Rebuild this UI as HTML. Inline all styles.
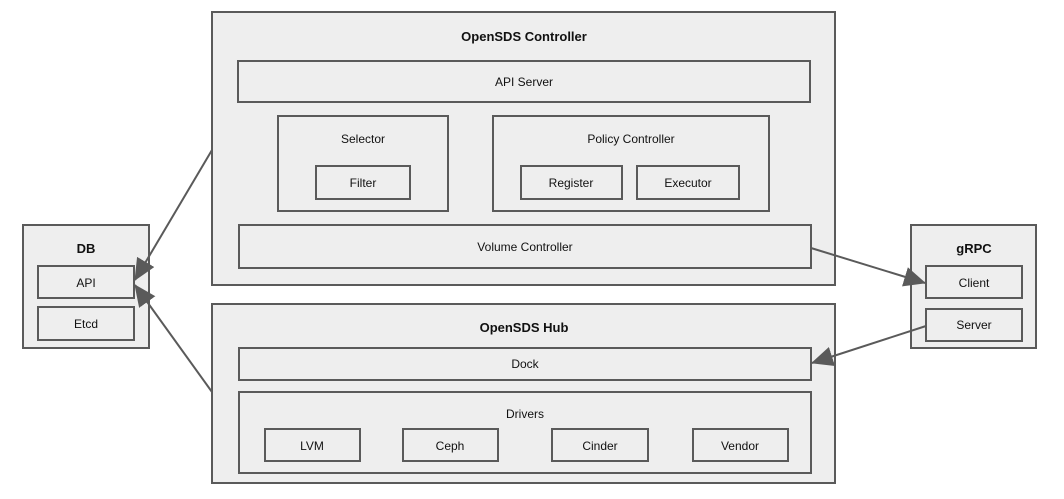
<!DOCTYPE html>
<html><head><meta charset="utf-8"><style>
html,body{margin:0;padding:0;background:#fff;}
svg{display:block;}
text{font-family:"Liberation Sans",Arial,sans-serif;fill:#111;}
.b{font-weight:bold;font-size:13px;}
.n{font-size:12px;}
rect{fill:#eeeeee;stroke:#5a5a5a;stroke-width:2;}
</style></head><body>
<svg width="1064" height="499" viewBox="0 0 1064 499" xmlns="http://www.w3.org/2000/svg">
<defs>
<marker id="a" viewBox="0 0 22 20" refX="21" refY="10" markerWidth="22" markerHeight="20" orient="auto" markerUnits="userSpaceOnUse"><path d="M0,0 L22,10 L0,20 z" fill="#5a5a5a"/></marker></defs>
<rect x="212" y="12" width="623" height="273"/>
<text class="b" x="524" y="41" text-anchor="middle">OpenSDS Controller</text>
<rect x="238" y="61" width="572" height="41"/>
<text class="n" x="524" y="86" text-anchor="middle">API Server</text>
<rect x="278" y="116" width="170" height="95"/>
<text class="n" x="363" y="143" text-anchor="middle">Selector</text>
<rect x="316" y="166" width="94" height="33"/>
<text class="n" x="363" y="187" text-anchor="middle">Filter</text>
<rect x="493" y="116" width="276" height="95"/>
<text class="n" x="631" y="143" text-anchor="middle">Policy Controller</text>
<rect x="521" y="166" width="101" height="33"/>
<text class="n" x="571" y="187" text-anchor="middle">Register</text>
<rect x="637" y="166" width="102" height="33"/>
<text class="n" x="688" y="187" text-anchor="middle">Executor</text>
<rect x="239" y="225" width="572" height="43"/>
<text class="n" x="525" y="251" text-anchor="middle">Volume Controller</text>
<rect x="212" y="304" width="623" height="179"/>
<text class="b" x="524" y="332" text-anchor="middle">OpenSDS Hub</text>
<rect x="239" y="348" width="572" height="32"/>
<text class="n" x="525" y="368" text-anchor="middle">Dock</text>
<rect x="239" y="392" width="572" height="81"/>
<text class="n" x="525" y="418" text-anchor="middle">Drivers</text>
<rect x="265" y="429" width="95" height="32"/>
<text class="n" x="312" y="450" text-anchor="middle">LVM</text>
<rect x="403" y="429" width="95" height="32"/>
<text class="n" x="450" y="450" text-anchor="middle">Ceph</text>
<rect x="552" y="429" width="96" height="32"/>
<text class="n" x="600" y="450" text-anchor="middle">Cinder</text>
<rect x="693" y="429" width="95" height="32"/>
<text class="n" x="740" y="450" text-anchor="middle">Vendor</text>
<rect x="23" y="225" width="126" height="123"/>
<text class="b" x="86" y="253" text-anchor="middle">DB</text>
<rect x="38" y="266" width="96" height="32"/>
<text class="n" x="86" y="287" text-anchor="middle">API</text>
<rect x="38" y="307" width="96" height="33"/>
<text class="n" x="86" y="328" text-anchor="middle">Etcd</text>
<rect x="911" y="225" width="125" height="123"/>
<text class="b" x="974" y="253" text-anchor="middle">gRPC</text>
<rect x="926" y="266" width="96" height="32"/>
<text class="n" x="974" y="287" text-anchor="middle">Client</text>
<rect x="926" y="309" width="96" height="32"/>
<text class="n" x="974" y="329" text-anchor="middle">Server</text>
<g stroke="#5a5a5a" stroke-width="2" fill="none">
<line x1="212" y1="150" x2="135" y2="280" marker-end="url(#a)"/>
<line x1="212" y1="392" x2="135" y2="285" marker-end="url(#a)"/>
<line x1="811" y1="248" x2="925" y2="283" marker-end="url(#a)"/>
<line x1="926" y1="326" x2="812" y2="363" marker-end="url(#a)"/>
</g>
</svg>
</body></html>
